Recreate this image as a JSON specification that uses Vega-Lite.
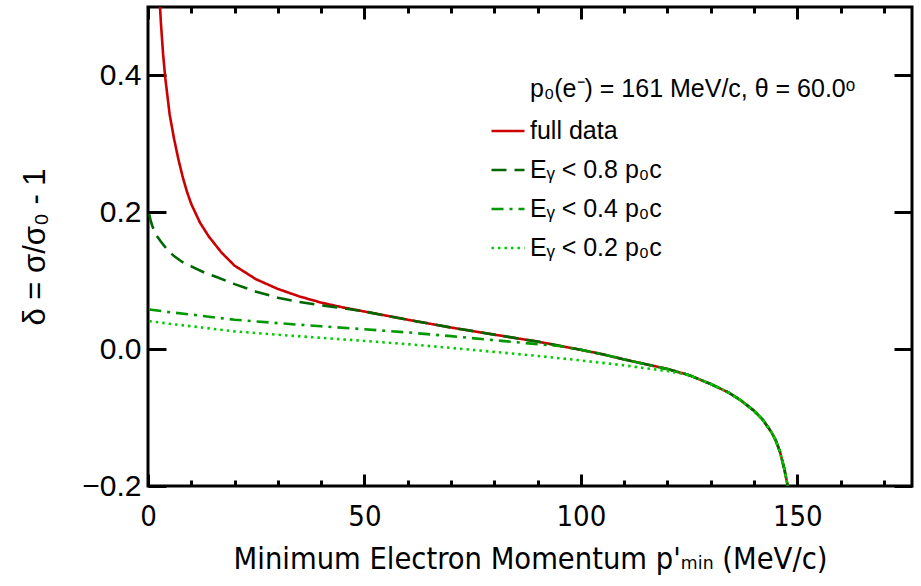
{
  "$schema": "https://vega.github.io/schema/vega-lite/v6.json",
  "width": 764,
  "height": 479,
  "autosize": "none",
  "padding": {"left": 148, "top": 7, "right": 9, "bottom": 100},
  "background": "white",
  "config": {
    "view": {"stroke": "black", "strokeWidth": 3},
    "font": "Liberation Sans",
    "axis": {"domain": false, "grid": false, "tickColor": "black", "tickWidth": 3, "labelColor": "black", "titleColor": "black", "titleFontWeight": "normal"}
  },
  "datasets": {
    "curves": [
      {"series": "full data", "p": 2.6, "delta": 0.52},
      {"series": "full data", "p": 3, "delta": 0.475},
      {"series": "full data", "p": 3.5, "delta": 0.43},
      {"series": "full data", "p": 4, "delta": 0.396},
      {"series": "full data", "p": 5, "delta": 0.343},
      {"series": "full data", "p": 6, "delta": 0.308},
      {"series": "full data", "p": 7, "delta": 0.278},
      {"series": "full data", "p": 8, "delta": 0.252},
      {"series": "full data", "p": 9, "delta": 0.23},
      {"series": "full data", "p": 10, "delta": 0.212},
      {"series": "full data", "p": 12, "delta": 0.185},
      {"series": "full data", "p": 14, "delta": 0.165},
      {"series": "full data", "p": 17, "delta": 0.141},
      {"series": "full data", "p": 20, "delta": 0.122},
      {"series": "full data", "p": 25, "delta": 0.102},
      {"series": "full data", "p": 30, "delta": 0.088},
      {"series": "full data", "p": 35, "delta": 0.077},
      {"series": "full data", "p": 40, "delta": 0.068},
      {"series": "full data", "p": 45, "delta": 0.061},
      {"series": "full data", "p": 50, "delta": 0.055},
      {"series": "full data", "p": 55, "delta": 0.049},
      {"series": "full data", "p": 60, "delta": 0.043},
      {"series": "full data", "p": 70, "delta": 0.0316},
      {"series": "full data", "p": 80, "delta": 0.0212},
      {"series": "full data", "p": 90, "delta": 0.011},
      {"series": "full data", "p": 95, "delta": 0.005},
      {"series": "full data", "p": 100, "delta": -0.001},
      {"series": "full data", "p": 105, "delta": -0.0075},
      {"series": "full data", "p": 110, "delta": -0.015},
      {"series": "full data", "p": 115, "delta": -0.022},
      {"series": "full data", "p": 120, "delta": -0.029},
      {"series": "full data", "p": 125, "delta": -0.038},
      {"series": "full data", "p": 130, "delta": -0.051},
      {"series": "full data", "p": 134, "delta": -0.063},
      {"series": "full data", "p": 137, "delta": -0.075},
      {"series": "full data", "p": 140, "delta": -0.09},
      {"series": "full data", "p": 142, "delta": -0.103},
      {"series": "full data", "p": 144, "delta": -0.121},
      {"series": "full data", "p": 145, "delta": -0.133},
      {"series": "full data", "p": 146, "delta": -0.15},
      {"series": "full data", "p": 147, "delta": -0.175},
      {"series": "full data", "p": 147.8, "delta": -0.2},

      {"series": "Eᵧ < 0.8 p₀c", "p": 0.3, "delta": 0.197},
      {"series": "Eᵧ < 0.8 p₀c", "p": 0.6, "delta": 0.188},
      {"series": "Eᵧ < 0.8 p₀c", "p": 1, "delta": 0.18},
      {"series": "Eᵧ < 0.8 p₀c", "p": 1.5, "delta": 0.172},
      {"series": "Eᵧ < 0.8 p₀c", "p": 2, "delta": 0.166},
      {"series": "Eᵧ < 0.8 p₀c", "p": 3, "delta": 0.157},
      {"series": "Eᵧ < 0.8 p₀c", "p": 4, "delta": 0.149},
      {"series": "Eᵧ < 0.8 p₀c", "p": 5, "delta": 0.142},
      {"series": "Eᵧ < 0.8 p₀c", "p": 6, "delta": 0.136},
      {"series": "Eᵧ < 0.8 p₀c", "p": 8, "delta": 0.127},
      {"series": "Eᵧ < 0.8 p₀c", "p": 10, "delta": 0.121},
      {"series": "Eᵧ < 0.8 p₀c", "p": 13, "delta": 0.112},
      {"series": "Eᵧ < 0.8 p₀c", "p": 16, "delta": 0.105},
      {"series": "Eᵧ < 0.8 p₀c", "p": 20, "delta": 0.095},
      {"series": "Eᵧ < 0.8 p₀c", "p": 25, "delta": 0.084},
      {"series": "Eᵧ < 0.8 p₀c", "p": 30, "delta": 0.075},
      {"series": "Eᵧ < 0.8 p₀c", "p": 35, "delta": 0.069},
      {"series": "Eᵧ < 0.8 p₀c", "p": 40, "delta": 0.064},
      {"series": "Eᵧ < 0.8 p₀c", "p": 45, "delta": 0.06},
      {"series": "Eᵧ < 0.8 p₀c", "p": 50, "delta": 0.055},
      {"series": "Eᵧ < 0.8 p₀c", "p": 55, "delta": 0.049},
      {"series": "Eᵧ < 0.8 p₀c", "p": 60, "delta": 0.043},
      {"series": "Eᵧ < 0.8 p₀c", "p": 70, "delta": 0.0316},
      {"series": "Eᵧ < 0.8 p₀c", "p": 80, "delta": 0.0212},
      {"series": "Eᵧ < 0.8 p₀c", "p": 90, "delta": 0.011},
      {"series": "Eᵧ < 0.8 p₀c", "p": 95, "delta": 0.005},
      {"series": "Eᵧ < 0.8 p₀c", "p": 100, "delta": -0.001},
      {"series": "Eᵧ < 0.8 p₀c", "p": 105, "delta": -0.0075},
      {"series": "Eᵧ < 0.8 p₀c", "p": 110, "delta": -0.015},
      {"series": "Eᵧ < 0.8 p₀c", "p": 115, "delta": -0.022},
      {"series": "Eᵧ < 0.8 p₀c", "p": 120, "delta": -0.029},
      {"series": "Eᵧ < 0.8 p₀c", "p": 125, "delta": -0.038},
      {"series": "Eᵧ < 0.8 p₀c", "p": 130, "delta": -0.051},
      {"series": "Eᵧ < 0.8 p₀c", "p": 134, "delta": -0.063},
      {"series": "Eᵧ < 0.8 p₀c", "p": 137, "delta": -0.075},
      {"series": "Eᵧ < 0.8 p₀c", "p": 140, "delta": -0.09},
      {"series": "Eᵧ < 0.8 p₀c", "p": 142, "delta": -0.103},
      {"series": "Eᵧ < 0.8 p₀c", "p": 144, "delta": -0.121},
      {"series": "Eᵧ < 0.8 p₀c", "p": 145, "delta": -0.133},
      {"series": "Eᵧ < 0.8 p₀c", "p": 146, "delta": -0.15},
      {"series": "Eᵧ < 0.8 p₀c", "p": 147, "delta": -0.175},
      {"series": "Eᵧ < 0.8 p₀c", "p": 147.8, "delta": -0.2},

      {"series": "Eᵧ < 0.4 p₀c", "p": 0.3, "delta": 0.058},
      {"series": "Eᵧ < 0.4 p₀c", "p": 5, "delta": 0.054},
      {"series": "Eᵧ < 0.4 p₀c", "p": 10, "delta": 0.0505},
      {"series": "Eᵧ < 0.4 p₀c", "p": 15, "delta": 0.0467},
      {"series": "Eᵧ < 0.4 p₀c", "p": 20, "delta": 0.043},
      {"series": "Eᵧ < 0.4 p₀c", "p": 30, "delta": 0.038},
      {"series": "Eᵧ < 0.4 p₀c", "p": 40, "delta": 0.0334},
      {"series": "Eᵧ < 0.4 p₀c", "p": 50, "delta": 0.029},
      {"series": "Eᵧ < 0.4 p₀c", "p": 60, "delta": 0.0244},
      {"series": "Eᵧ < 0.4 p₀c", "p": 70, "delta": 0.019},
      {"series": "Eᵧ < 0.4 p₀c", "p": 80, "delta": 0.013},
      {"series": "Eᵧ < 0.4 p₀c", "p": 90, "delta": 0.0073},
      {"series": "Eᵧ < 0.4 p₀c", "p": 95, "delta": 0.0045},
      {"series": "Eᵧ < 0.4 p₀c", "p": 100, "delta": -0.001},
      {"series": "Eᵧ < 0.4 p₀c", "p": 105, "delta": -0.0075},
      {"series": "Eᵧ < 0.4 p₀c", "p": 110, "delta": -0.015},
      {"series": "Eᵧ < 0.4 p₀c", "p": 115, "delta": -0.022},
      {"series": "Eᵧ < 0.4 p₀c", "p": 120, "delta": -0.029},
      {"series": "Eᵧ < 0.4 p₀c", "p": 125, "delta": -0.038},
      {"series": "Eᵧ < 0.4 p₀c", "p": 130, "delta": -0.051},
      {"series": "Eᵧ < 0.4 p₀c", "p": 134, "delta": -0.063},
      {"series": "Eᵧ < 0.4 p₀c", "p": 137, "delta": -0.075},
      {"series": "Eᵧ < 0.4 p₀c", "p": 140, "delta": -0.09},
      {"series": "Eᵧ < 0.4 p₀c", "p": 142, "delta": -0.103},
      {"series": "Eᵧ < 0.4 p₀c", "p": 144, "delta": -0.121},
      {"series": "Eᵧ < 0.4 p₀c", "p": 145, "delta": -0.133},
      {"series": "Eᵧ < 0.4 p₀c", "p": 146, "delta": -0.15},
      {"series": "Eᵧ < 0.4 p₀c", "p": 147, "delta": -0.175},
      {"series": "Eᵧ < 0.4 p₀c", "p": 147.8, "delta": -0.2},

      {"series": "Eᵧ < 0.2 p₀c", "p": 0.3, "delta": 0.041},
      {"series": "Eᵧ < 0.2 p₀c", "p": 5, "delta": 0.037},
      {"series": "Eᵧ < 0.2 p₀c", "p": 10, "delta": 0.0335},
      {"series": "Eᵧ < 0.2 p₀c", "p": 15, "delta": 0.0297},
      {"series": "Eᵧ < 0.2 p₀c", "p": 20, "delta": 0.026},
      {"series": "Eᵧ < 0.2 p₀c", "p": 30, "delta": 0.021},
      {"series": "Eᵧ < 0.2 p₀c", "p": 40, "delta": 0.0165},
      {"series": "Eᵧ < 0.2 p₀c", "p": 50, "delta": 0.012},
      {"series": "Eᵧ < 0.2 p₀c", "p": 60, "delta": 0.0073},
      {"series": "Eᵧ < 0.2 p₀c", "p": 70, "delta": 0.0018},
      {"series": "Eᵧ < 0.2 p₀c", "p": 80, "delta": -0.004},
      {"series": "Eᵧ < 0.2 p₀c", "p": 90, "delta": -0.0099},
      {"series": "Eᵧ < 0.2 p₀c", "p": 100, "delta": -0.0165},
      {"series": "Eᵧ < 0.2 p₀c", "p": 110, "delta": -0.0237},
      {"series": "Eᵧ < 0.2 p₀c", "p": 115, "delta": -0.028},
      {"series": "Eᵧ < 0.2 p₀c", "p": 120, "delta": -0.032},
      {"series": "Eᵧ < 0.2 p₀c", "p": 125, "delta": -0.038},
      {"series": "Eᵧ < 0.2 p₀c", "p": 130, "delta": -0.051},
      {"series": "Eᵧ < 0.2 p₀c", "p": 134, "delta": -0.063},
      {"series": "Eᵧ < 0.2 p₀c", "p": 137, "delta": -0.075},
      {"series": "Eᵧ < 0.2 p₀c", "p": 140, "delta": -0.09},
      {"series": "Eᵧ < 0.2 p₀c", "p": 142, "delta": -0.103},
      {"series": "Eᵧ < 0.2 p₀c", "p": 144, "delta": -0.121},
      {"series": "Eᵧ < 0.2 p₀c", "p": 145, "delta": -0.133},
      {"series": "Eᵧ < 0.2 p₀c", "p": 146, "delta": -0.15},
      {"series": "Eᵧ < 0.2 p₀c", "p": 147, "delta": -0.175},
      {"series": "Eᵧ < 0.2 p₀c", "p": 147.8, "delta": -0.2}
    ]
  },
  "data": {"name": "curves"},
  "layer": [
    {
      "mark": {"type": "line", "strokeWidth": 2.6, "clip": true},
      "encoding": {
        "x": {
          "field": "p", "type": "quantitative",
          "scale": {"domain": [0, 176.5], "nice": false, "zero": false},
          "axis": {
            "orient": "bottom",
            "values": [0, 10, 20, 30, 40, 50, 60, 70, 80, 90, 100, 110, 120, 130, 140, 150, 160, 170],
            "tickSize": {"condition": {"test": "datum.value % 50 === 0", "value": -12}, "value": -6},
            "labelExpr": "datum.value % 50 === 0 ? datum.label : ''",
            "labelPadding": 28,
            "labelFontSize": 29,
            "labelFont": "'DejaVu Sans Condensed', 'Liberation Sans'",
            "labelFlush": false,
            "labelOverlap": false,
            "title": "Minimum Electron Momentum p'ₘᵢₙ (MeV/c)",
            "titleFont": "'DejaVu Sans Condensed', 'Liberation Sans'",
            "titleFontSize": 30.5,
            "titlePadding": 7
          }
        },
        "y": {
          "field": "delta", "type": "quantitative",
          "scale": {"domain": [-0.2, 0.5], "nice": false, "zero": false},
          "axis": {
            "orient": "left",
            "values": [-0.2, 0, 0.2, 0.4],
            "format": ".1f",
            "tickSize": -18,
            "labelPadding": 25,
            "labelFontSize": 30,
            "labelFlush": false,
            "labelOverlap": false,
            "title": "δ = σ/σ₀ - 1",
            "titleFontSize": 31,
            "titlePadding": 30
          }
        },
        "color": {
          "field": "series", "type": "nominal",
          "scale": {
            "domain": ["full data", "Eᵧ < 0.8 p₀c", "Eᵧ < 0.4 p₀c", "Eᵧ < 0.2 p₀c"],
            "range": ["#cc0000", "#006600", "#009900", "#00cc00"]
          },
          "legend": {
            "orient": "none",
            "legendX": 382,
            "legendY": 70,
            "padding": 0,
            "title": "p₀(e⁻) = 161 MeV/c, θ = 60.0ᵒ",
            "titleFontSize": 25,
            "titleFontWeight": "normal",
            "titleColor": "black",
            "titlePadding": 11,
            "titleLimit": 600,
            "labelFontSize": 25,
            "labelColor": "black",
            "labelLimit": 400,
            "labelOffset": 4,
            "symbolType": "stroke",
            "symbolSize": 1089,
            "symbolStrokeWidth": 2.6,
            "symbolOffset": -40,
            "rowPadding": 8
          }
        },
        "strokeDash": {
          "field": "series", "type": "nominal",
          "scale": {
            "domain": ["full data", "Eᵧ < 0.8 p₀c", "Eᵧ < 0.4 p₀c", "Eᵧ < 0.2 p₀c"],
            "range": [[1, 0], [15, 8], [12, 6, 3, 6], [2.5, 4]]
          },
          "legend": {
            "orient": "none",
            "legendX": 382,
            "legendY": 70,
            "padding": 0,
            "title": "p₀(e⁻) = 161 MeV/c, θ = 60.0ᵒ",
            "titleFontSize": 25,
            "titleFontWeight": "normal",
            "titleColor": "black",
            "titlePadding": 11,
            "titleLimit": 600,
            "labelFontSize": 25,
            "labelColor": "black",
            "labelLimit": 400,
            "labelOffset": 4,
            "symbolType": "stroke",
            "symbolSize": 1089,
            "symbolStrokeWidth": 2.6,
            "symbolOffset": -40,
            "rowPadding": 8
          }
        }
      }
    },
    {
      "mark": {"type": "line", "opacity": 0},
      "encoding": {
        "x": {
          "field": "p", "type": "quantitative",
          "axis": {
            "orient": "top",
            "values": [0, 10, 20, 30, 40, 50, 60, 70, 80, 90, 100, 110, 120, 130, 140, 150, 160, 170],
            "tickSize": {"condition": {"test": "datum.value % 50 === 0", "value": -12}, "value": -6},
            "labels": false,
            "title": null
          }
        },
        "y": {
          "field": "delta", "type": "quantitative",
          "axis": {
            "orient": "right",
            "values": [-0.2, 0, 0.2, 0.4],
            "tickSize": -18,
            "labels": false,
            "title": null
          }
        },
        "detail": {"field": "series"}
      }
    }
  ]
}
